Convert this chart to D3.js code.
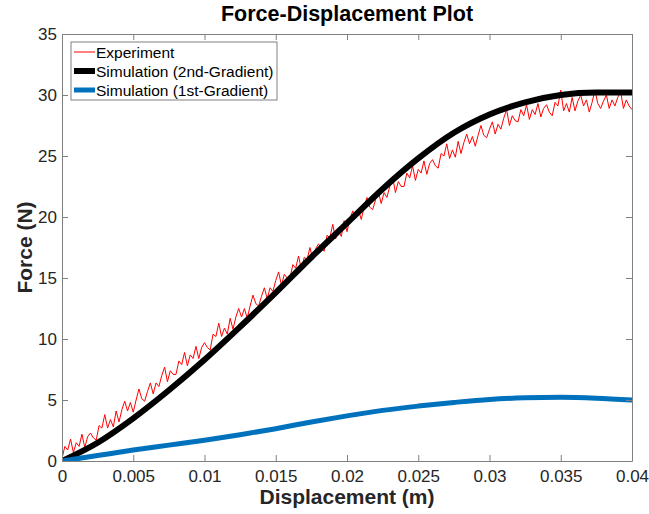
<!DOCTYPE html>
<html>
<head>
<meta charset="utf-8">
<script src="https://cdn.jsdelivr.net/npm/d3@7"></script>
<style>
  html, body { margin: 0; padding: 0; background: #fff; }
  svg { display: block; }
</style>
</head>
<body>
<div id="chart"></div>
<script>
// Force-Displacement plot

const X_TICKS = [0, 0.005, 0.01, 0.015, 0.02, 0.025, 0.03, 0.035, 0.04];
const X_TICK_LABELS = ['0', '0.005', '0.01', '0.015', '0.02', '0.025', '0.03', '0.035', '0.04'];
const Y_TICKS = [0, 5, 10, 15, 20, 25, 30, 35];

const SERIES_NAMES = ['Experiment', 'Simulation (2nd-Gradient)', 'Simulation (1st-Gradient)'];

// simulation curves (displacement m, force N)
const SIM_DISP = [0, 0.0025, 0.005, 0.0075, 0.01, 0.0125, 0.015, 0.0175, 0.02,
                  0.0225, 0.025, 0.0275, 0.03, 0.0325, 0.035, 0.0375, 0.04];
const SIM2_FORCE = [0, 1.5, 3.5, 5.8, 8.3, 11.0, 13.8, 16.7, 19.5,
                    22.3, 24.8, 26.9, 28.4, 29.4, 30.0, 30.2, 30.2];
const SIM1_FORCE = [0, 0.45, 0.9, 1.3, 1.7, 2.15, 2.65, 3.2, 3.7,
                    4.15, 4.5, 4.8, 5.05, 5.18, 5.22, 5.15, 5.0];

// experiment, sampled every 0.0002 m
const EXP_STEP = 0.0002;
const EXP_FORCE = [
  0.2, 1.2, 0.9, 1.8, 0.7, 1.5, 1.2, 2.2, 1.1, 2.0,
  2.3, 1.9, 1.7, 2.9, 2.7, 3.8, 2.7, 3.4, 2.8, 4.1,
  3.2, 4.2, 4.9, 4.1, 4.8, 4.0, 5.0, 5.9, 5.1, 4.9,
  5.7, 6.4, 5.5, 6.4, 6.1, 7.0, 7.7, 6.5, 7.4, 7.1,
  7.1, 8.2, 7.9, 8.9, 7.8, 8.7, 8.4, 9.4, 8.4, 9.3,
  9.7, 9.3, 9.1, 10.4, 10.2, 11.3, 10.2, 10.9, 10.4, 11.7,
  10.8, 11.8, 12.5, 11.8, 12.5, 11.7, 12.7, 13.6, 12.9, 12.7,
  13.5, 14.2, 13.3, 14.2, 13.9, 14.8, 15.5, 14.4, 15.3, 15.0,
  15.0, 16.1, 15.8, 16.8, 15.7, 16.7, 16.5, 17.5, 16.5, 17.4,
  17.8, 17.4, 17.2, 18.5, 18.3, 19.4, 18.2, 18.9, 18.4, 19.7,
  18.8, 19.8, 20.5, 19.9, 20.6, 19.8, 20.8, 21.6, 20.8, 20.6,
  21.4, 22.1, 21.1, 22.0, 21.6, 22.5, 23.3, 22.0, 22.9, 22.5,
  22.5, 23.6, 23.2, 24.2, 23.0, 23.9, 23.6, 24.6, 23.5, 24.4,
  24.7, 24.2, 24.0, 25.2, 25.0, 26.0, 24.8, 25.5, 24.9, 26.2,
  25.2, 26.1, 26.8, 26.0, 26.6, 25.8, 26.7, 27.5, 26.7, 26.5,
  27.2, 27.8, 26.8, 27.6, 27.2, 28.1, 28.8, 27.5, 28.3, 27.9,
  27.8, 28.8, 28.3, 29.2, 28.0, 28.8, 28.4, 29.3, 28.2, 28.9,
  29.2, 28.6, 28.3, 29.4, 29.1, 30.4, 28.7, 29.3, 28.6, 29.8,
  28.7, 29.5, 30.0, 29.1, 29.6, 28.6, 29.4, 30.4, 29.3, 28.9,
  29.5, 30.0, 28.9, 29.6, 29.1, 29.8, 30.3, 28.9, 29.6, 29.1,
  28.8
];

const COLORS = { exp: '#FF0000', sim2: '#000000', sim1: '#0072BD' };
const FONT = "'Liberation Sans', Arial, Helvetica, sans-serif";

const W = 649, H = 514;
const m = { top: 34, right: 17, bottom: 53, left: 62 };
const iw = W - m.left - m.right;
const ih = H - m.top - m.bottom;

const svg = d3.select('#chart').append('svg')
  .attr('width', W).attr('height', H)
  .attr('viewBox', `0 0 ${W} ${H}`);

const g = svg.append('g').attr('transform', `translate(${m.left},${m.top})`);

const x = d3.scaleLinear().domain([0, 0.04]).range([0, iw]);
const y = d3.scaleLinear().domain([0, 35]).range([ih, 0]);

const axisCol = '#808080';
const textCol = '#262626';

// clip so thick lines stay in the box
svg.append('defs').append('clipPath').attr('id', 'clip')
  .append('rect').attr('width', iw).attr('height', ih);

const plot = g.append('g').attr('clip-path', 'url(#clip)');

const expData = EXP_FORCE.map((f, i) => ({ d: i * EXP_STEP, f }));
const sim2 = SIM_DISP.map((d, i) => ({ d, f: SIM2_FORCE[i] }));
const sim1 = SIM_DISP.map((d, i) => ({ d, f: SIM1_FORCE[i] }));

const lineStraight = d3.line().x(p => x(p.d)).y(p => y(p.f));
const lineSmooth = d3.line().x(p => x(p.d)).y(p => y(p.f)).curve(d3.curveMonotoneX);

plot.append('path').datum(expData)
  .attr('d', lineStraight)
  .attr('fill', 'none').attr('stroke', COLORS.exp)
  .attr('stroke-width', 1).attr('stroke-linejoin', 'round');

plot.append('path').datum(sim2)
  .attr('d', lineSmooth)
  .attr('fill', 'none').attr('stroke', COLORS.sim2)
  .attr('stroke-width', 6).attr('stroke-linecap', 'round');

plot.append('path').datum(sim1)
  .attr('d', lineSmooth)
  .attr('fill', 'none').attr('stroke', COLORS.sim1)
  .attr('stroke-width', 5).attr('stroke-linecap', 'round');

// axes (ticks inward, on all four sides)
function styleAxis(sel, showText) {
  sel.select('.domain').attr('stroke', axisCol);
  sel.selectAll('.tick line').attr('stroke', axisCol);
  sel.selectAll('.tick text')
    .attr('fill', textCol).attr('font-size', '17px').attr('font-family', FONT)
    .style('display', showText ? null : 'none');
}

g.append('g').attr('transform', `translate(0,${ih})`)
  .call(d3.axisBottom(x).tickValues(X_TICKS).tickSize(-6).tickSizeOuter(0)
    .tickPadding(9).tickFormat((d, i) => X_TICK_LABELS[i]))
  .call(s => styleAxis(s, true));

g.append('g')
  .call(d3.axisTop(x).tickValues(X_TICKS).tickSize(-6).tickSizeOuter(0))
  .call(s => styleAxis(s, false));

g.append('g')
  .call(d3.axisLeft(y).tickValues(Y_TICKS).tickSize(-6).tickSizeOuter(0)
    .tickPadding(5).tickFormat(d3.format('d')))
  .call(s => styleAxis(s, true));

g.append('g').attr('transform', `translate(${iw},0)`)
  .call(d3.axisRight(y).tickValues(Y_TICKS).tickSize(-6).tickSizeOuter(0))
  .call(s => styleAxis(s, false));

// title and labels
svg.append('text')
  .attr('x', m.left + iw / 2).attr('y', 21)
  .attr('text-anchor', 'middle')
  .attr('font-family', FONT).attr('font-weight', 'bold').attr('font-size', '21.5px')
  .attr('fill', '#000')
  .text('Force-Displacement Plot');

svg.append('text')
  .attr('x', m.left + iw / 2).attr('y', 504)
  .attr('text-anchor', 'middle')
  .attr('font-family', FONT).attr('font-weight', 'bold').attr('font-size', '21px')
  .attr('fill', textCol)
  .text('Displacement (m)');

svg.append('text')
  .attr('transform', `translate(32,${m.top + ih / 2}) rotate(-90)`)
  .attr('text-anchor', 'middle')
  .attr('font-family', FONT).attr('font-weight', 'bold').attr('font-size', '21px')
  .attr('fill', textCol)
  .text('Force (N)');

// legend
const legend = svg.append('g').attr('transform', 'translate(71,42)');
legend.append('rect')
  .attr('width', 206).attr('height', 58)
  .attr('fill', '#fff').attr('stroke', axisCol).attr('stroke-width', 1);

const legWidths = [1, 6, 5];
const legColors = [COLORS.exp, COLORS.sim2, COLORS.sim1];
SERIES_NAMES.forEach((name, i) => {
  const row = legend.append('g').attr('transform', `translate(0,${10 + i * 19})`);
  row.append('line')
    .attr('x1', 3).attr('x2', 24).attr('y1', 0).attr('y2', 0)
    .attr('stroke', legColors[i]).attr('stroke-width', legWidths[i]);
  row.append('text')
    .attr('x', 25).attr('y', 5.5)
    .attr('font-family', FONT).attr('font-size', '15.5px')
    .attr('fill', '#000')
    .text(name);
});
</script>
</body>
</html>
